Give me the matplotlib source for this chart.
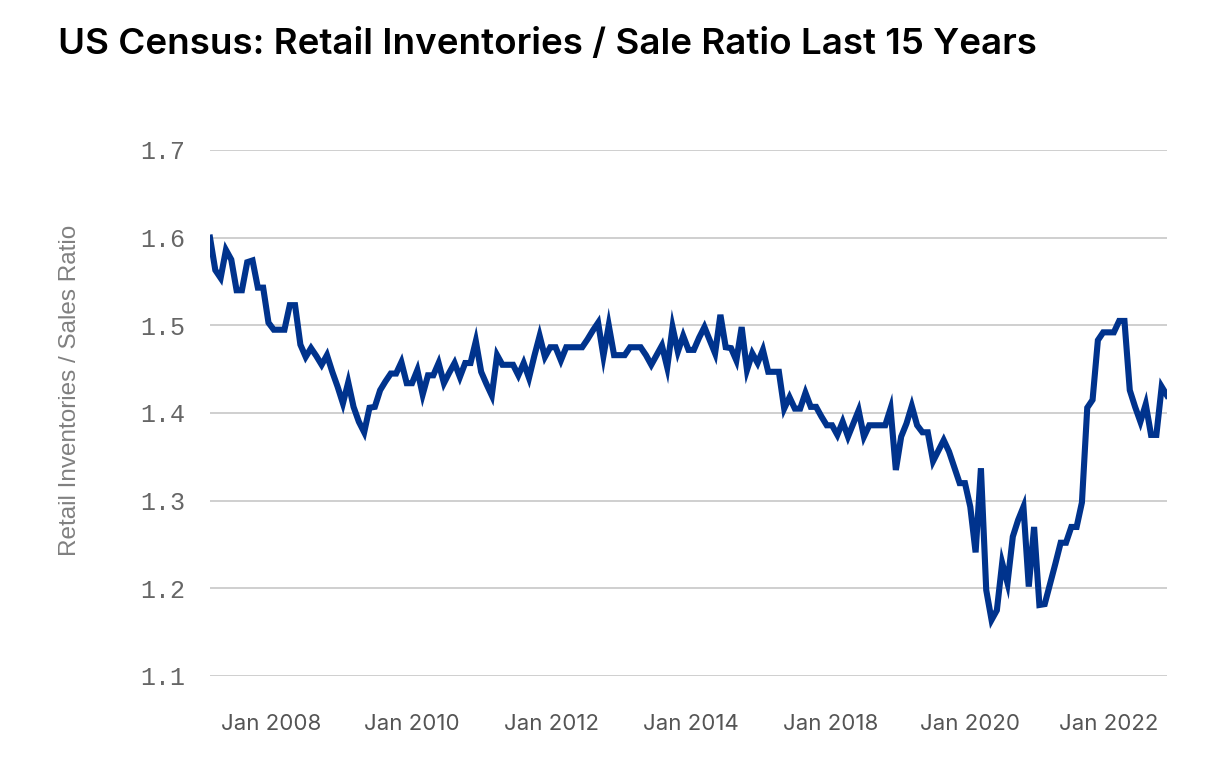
import matplotlib
matplotlib.use("Agg")
import matplotlib.pyplot as plt
import numpy as np

title = "US Census: Retail Inventories / Sale Ratio Last 15 Years"
ylabel = "Retail Inventories / Sales Ratio"

ratio = [
    1.600, 1.563, 1.554, 1.586, 1.575, 1.540, 1.540, 1.572, 1.574, 1.543,
    1.543, 1.503, 1.495, 1.495, 1.495, 1.523, 1.523, 1.478, 1.464, 1.474,
    1.465, 1.455, 1.466, 1.447, 1.430, 1.411, 1.435, 1.407, 1.390, 1.378,
    1.406, 1.407, 1.426, 1.436, 1.445, 1.445, 1.458, 1.434, 1.434, 1.449,
    1.421, 1.443, 1.443, 1.457, 1.434, 1.446, 1.457, 1.441, 1.457, 1.457,
    1.482, 1.447, 1.433, 1.420, 1.466, 1.455, 1.455, 1.455, 1.443, 1.457,
    1.440, 1.465, 1.488, 1.464, 1.475, 1.475, 1.460, 1.475, 1.475, 1.475,
    1.475, 1.484, 1.494, 1.503, 1.465, 1.500, 1.466, 1.466, 1.466, 1.475,
    1.475, 1.475, 1.466, 1.455, 1.466, 1.477, 1.452, 1.498, 1.470,
    1.488, 1.472, 1.472, 1.486, 1.498, 1.483, 1.468, 1.512, 1.475,
    1.474, 1.460, 1.498, 1.449, 1.468, 1.457, 1.472, 1.447, 1.447, 1.447,
    1.405, 1.418, 1.405, 1.405, 1.423, 1.407, 1.407, 1.396, 1.386, 1.386,
    1.375, 1.390, 1.373, 1.388, 1.403, 1.373, 1.386, 1.386, 1.386, 1.386,
    1.405, 1.335, 1.373, 1.388, 1.408, 1.386, 1.378, 1.378, 1.345, 1.357,
    1.369, 1.356, 1.338, 1.320, 1.320, 1.293, 1.241, 1.337, 1.198, 1.164,
    1.175, 1.229, 1.206, 1.259, 1.278, 1.293, 1.202, 1.270, 1.181,
    1.182, 1.205, 1.228, 1.252, 1.252, 1.270, 1.270, 1.298, 1.406, 1.415,
    1.483, 1.492, 1.492, 1.492, 1.505, 1.505, 1.426, 1.407, 1.390, 1.410,
    1.375, 1.375, 1.430, 1.420,
]

tick_labels = ["Jan 2008", "Jan 2010", "Jan 2012", "Jan 2014",
               "Jan 2018", "Jan 2020", "Jan 2022"]
tick_index = [11.6, 38.0, 64.3, 90.4, 116.7, 143.0, 169.1]
y_ticks = [1.1, 1.2, 1.3, 1.4, 1.5, 1.6, 1.7]

x = np.arange(len(ratio))

fig = plt.figure(figsize=(12.24, 7.81), dpi=100)
ax = fig.add_axes([210/1224, 1-676/781, (1167-210)/1224, (676-150)/781])

ax.plot(x, ratio, color="#00338D", lw=4.4, solid_joinstyle="miter", zorder=3)

ax.set_xlim(0, len(ratio)-1)
ax.set_ylim(1.1, 1.7)
ax.set_yticks(y_ticks)
ax.set_yticklabels([f"{v:.1f}" for v in y_ticks], family="Liberation Mono",
                   fontsize=18, color="#666666")
ax.set_xticks(tick_index)
ax.set_xticklabels(tick_labels, family="Inter", fontsize=16, color="#555555")
ax.tick_params(axis="y", length=0, pad=18)
ax.tick_params(axis="x", length=0, pad=27)
ax.grid(axis="y", color="#cccccc", lw=1.3)
ax.set_axisbelow(True)
for s in ax.spines.values():
    s.set_visible(False)

fig.text(70/1224, 1-390/781, ylabel, rotation=90, ha="center", va="center",
         family="Liberation Sans", fontsize=17.5, color="#808080")
fig.text(58/1224, 1-45/781, title, ha="left", va="center",
         family="Inter", fontsize=26.5, fontweight="semibold", color="#000000")

fig.savefig("out.png", dpi=100)
